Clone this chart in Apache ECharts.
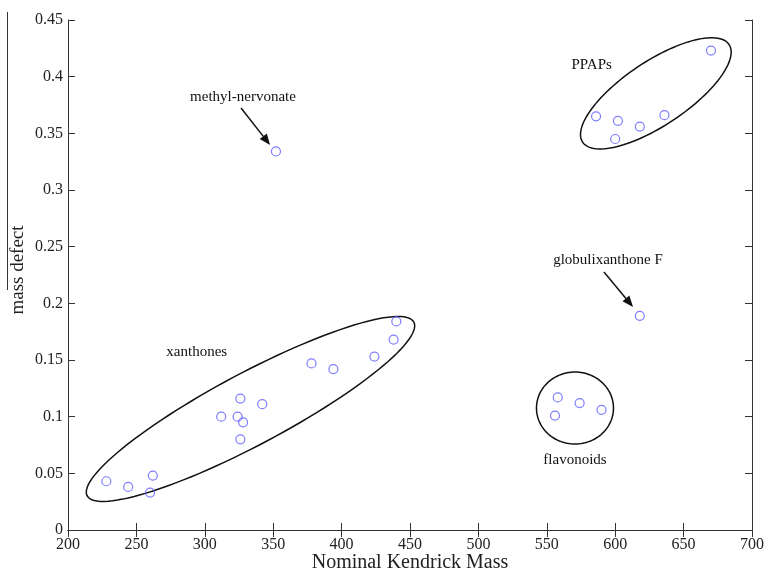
<!DOCTYPE html>
<html>
<head>
<meta charset="utf-8">
<script src="https://cdn.jsdelivr.net/npm/echarts@6/dist/echarts.min.js"></script>
<style>
  html, body { margin: 0; background: #fff; }
  #chart { width: 768px; height: 571px; }
</style>
</head>
<body>
<div id="chart"></div>
<script>
// values
const xanthoneMass = [228, 244, 260, 262, 312, 324, 326, 326, 328, 342, 378, 394, 424, 438, 440];
const xanthoneDefect = [0.043, 0.038, 0.033, 0.048, 0.100, 0.100, 0.116, 0.080, 0.095, 0.111, 0.147, 0.142, 0.153, 0.168, 0.184];
const ppapMass = [586, 600, 602, 618, 636, 670];
const ppapDefect = [0.365, 0.345, 0.361, 0.356, 0.366, 0.423];
const flavonoidMass = [556, 558, 574, 590];
const flavonoidDefect = [0.101, 0.117, 0.112, 0.106];
const singleMass = [352, 618];
const singleDefect = [0.334, 0.189];

const xTicks = [200, 250, 300, 350, 400, 450, 500, 550, 600, 650, 700];
const yTicks = [0, 0.05, 0.1, 0.15, 0.2, 0.25, 0.3, 0.35, 0.4, 0.45];

// annotations: group outlines (centre in data units, radii in px, tilt in degrees)
const groupOutlines = [
  { x: 333.4, y: 0.1068, a: 185, b: 36, tilt: 28 },
  { x: 629.7, y: 0.3853, a: 88, b: 32, tilt: 33.7 },
  { x: 570.6, y: 0.1076, a: 38.5, b: 36, tilt: 0 }
];
const groupLabels = [
  { x: 294.1, y: 0.157, text: 'xanthones' },
  { x: 582.8, y: 0.410, text: 'PPAPs' },
  { x: 570.6, y: 0.062, text: 'flavonoids' },
  { x: 327.9, y: 0.382, text: 'methyl-nervonate' },
  { x: 594.7, y: 0.238, text: 'globulixanthone F' }
];
const arrows = [
  { x1: 326.5, y1: 0.3724, x2: 347.7, y2: 0.3397 },
  { x1: 591.8, y1: 0.2276, x2: 613.0, y2: 0.1968 }
];

const serif = 'Liberation Serif, Times New Roman, serif';
const pairs = (xs, ys) => xs.map((x, i) => [x, ys[i]]);

const chart = echarts.init(document.getElementById('chart'));

const markerStyle = {
  color: 'rgba(0,0,0,0)',
  borderColor: '#5c5cff',
  borderWidth: 1.2
};

function scatter(name, xs, ys) {
  return {
    name: name,
    type: 'scatter',
    data: pairs(xs, ys),
    symbol: 'circle',
    symbolSize: 9,
    itemStyle: markerStyle,
    z: 5
  };
}

const baseX = {
  type: 'value', min: 200, max: 700, interval: 50,
  axisLine: { show: true, lineStyle: { color: '#333', width: 1 } },
  axisTick: { show: true, inside: true, length: 7, lineStyle: { color: '#333' } },
  splitLine: { show: false }
};
const baseY = {
  type: 'value', min: 0, max: 0.45, interval: 0.05,
  axisLine: { show: true, lineStyle: { color: '#333', width: 1 } },
  axisTick: { show: true, inside: true, length: 7, lineStyle: { color: '#333' } },
  splitLine: { show: false }
};

const option = {
  animation: false,
  backgroundColor: '#fff',
  grid: { left: 68, right: 16, top: 20, bottom: 41, containLabel: false, outerBoundsMode: 'none' },
  xAxis: [
    Object.assign({}, baseX, {
      position: 'bottom',
      axisLabel: {
        fontFamily: serif, fontSize: 16, color: '#222', margin: 7,
        formatter: v => (xTicks.includes(v) ? String(v) : '')
      },
      name: 'Nominal Kendrick Mass',
      nameLocation: 'middle',
      nameGap: 23,
      nameMoveOverlap: false,
      nameTextStyle: { fontFamily: serif, fontSize: 20, color: '#222' }
    }),
    Object.assign({}, baseX, { position: 'top', axisLabel: { show: false } })
  ],
  yAxis: [
    Object.assign({}, baseY, {
      position: 'left',
      axisLabel: {
        fontFamily: serif, fontSize: 16, color: '#222', margin: 5,
        formatter: v => {
          const t = yTicks.find(k => Math.abs(k - v) < 1e-9);
          return t === undefined ? '' : String(t);
        }
      },
      name: 'mass defect',
      nameLocation: 'middle',
      nameGap: 40,
      nameMoveOverlap: false,
      nameRotate: 90,
      nameTextStyle: { fontFamily: serif, fontSize: 19, color: '#222', padding: [0, 0, 0, 10] }
    }),
    Object.assign({}, baseY, { position: 'right', axisLabel: { show: false } })
  ],
  graphic: [
    // the bar drawn over the y title
    { type: 'line', shape: { x1: 7.5, y1: 12, x2: 7.5, y2: 290 }, style: { stroke: '#333', lineWidth: 1 } }
  ],
  series: [
    scatter('xanthones', xanthoneMass, xanthoneDefect),
    scatter('PPAPs', ppapMass, ppapDefect),
    scatter('flavonoids', flavonoidMass, flavonoidDefect),
    scatter('singles', singleMass, singleDefect),
    {
      type: 'custom',
      name: 'outlines',
      clip: false,
      silent: true,
      data: groupOutlines.map(g => [g.x, g.y]),
      renderItem: function (params, api) {
        const g = groupOutlines[params.dataIndex];
        const c = api.coord([api.value(0), api.value(1)]);
        const th = g.tilt * Math.PI / 180;
        const pts = [];
        for (let i = 0; i < 120; i++) {
          const t = i / 120 * Math.PI * 2;
          const u = g.a * Math.cos(t), w = g.b * Math.sin(t);
          pts.push([c[0] + u * Math.cos(th) - w * Math.sin(th),
                    c[1] - (u * Math.sin(th) + w * Math.cos(th))]);
        }
        return {
          type: 'polygon',
          shape: { points: pts },
          style: { fill: 'none', stroke: '#111', lineWidth: 1.5 }
        };
      },
      z: 3
    },
    {
      type: 'custom',
      name: 'arrows',
      clip: false,
      silent: true,
      data: arrows.map(a => [a.x1, a.y1, a.x2, a.y2]),
      renderItem: function (params, api) {
        const p1 = api.coord([api.value(0), api.value(1)]);
        const p2 = api.coord([api.value(2), api.value(3)]);
        const ang = Math.atan2(p2[1] - p1[1], p2[0] - p1[0]);
        const len = 11, half = 4.5;
        const bx = p2[0] - len * Math.cos(ang), by = p2[1] - len * Math.sin(ang);
        const head = [
          [p2[0], p2[1]],
          [bx + half * Math.sin(ang), by - half * Math.cos(ang)],
          [bx - half * Math.sin(ang), by + half * Math.cos(ang)]
        ];
        return {
          type: 'group',
          children: [
            { type: 'line', shape: { x1: p1[0], y1: p1[1], x2: bx, y2: by }, style: { stroke: '#111', lineWidth: 1.5 } },
            { type: 'polygon', shape: { points: head }, style: { fill: '#111' } }
          ]
        };
      },
      z: 4
    },
    {
      type: 'custom',
      name: 'labels',
      clip: false,
      silent: true,
      data: groupLabels.map(l => [l.x, l.y]),
      renderItem: function (params, api) {
        const l = groupLabels[params.dataIndex];
        const p = api.coord([api.value(0), api.value(1)]);
        return {
          type: 'text',
          x: p[0], y: p[1],
          style: {
            text: l.text, fill: '#111',
            font: '15px ' + serif,
            align: 'center', verticalAlign: 'middle',
            textAlign: 'center', textVerticalAlign: 'middle'
          }
        };
      },
      z: 4
    }
  ]
};

chart.setOption(option);
</script>
</body>
</html>
